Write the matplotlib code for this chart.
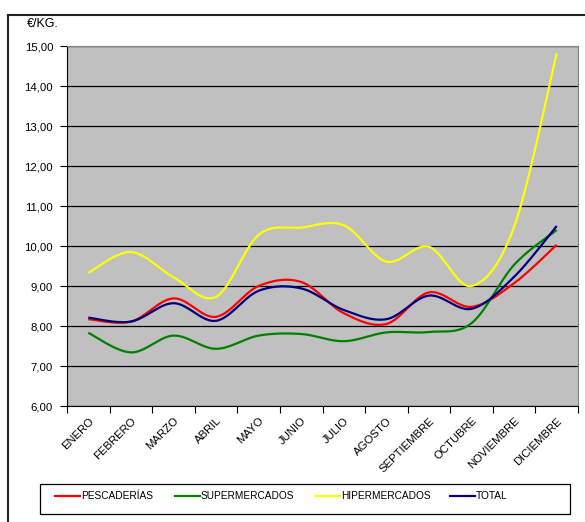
import numpy as np
import matplotlib
matplotlib.use('Agg')
import matplotlib.pyplot as plt
from matplotlib.lines import Line2D
from matplotlib.patches import Rectangle

plt.rcParams['font.family'] = ['Liberation Sans', 'DejaVu Sans']

# ── Data (€/kg per month) ───────────────────────────────────────────────
MONTHS = ["ENERO", "FEBRERO", "MARZO", "ABRIL", "MAYO", "JUNIO", "JULIO",
          "AGOSTO", "SEPTIEMBRE", "OCTUBRE", "NOVIEMBRE", "DICIEMBRE"]

pescaderias    = [8.17, 8.11, 8.69, 8.23, 9.00, 9.10, 8.32, 8.05, 8.84, 8.48, 9.07, 10.03]
supermercados  = [7.83, 7.34, 7.76, 7.43, 7.76, 7.80, 7.62, 7.84, 7.85, 8.07, 9.53, 10.40]
hipermercados  = [9.33, 9.85, 9.22, 8.73, 10.28, 10.46, 10.52, 9.61, 9.98, 9.00, 10.48, 14.82]
total          = [8.21, 8.11, 8.57, 8.13, 8.88, 8.94, 8.40, 8.17, 8.76, 8.43, 9.23, 10.50]

SERIES = [
    ("PESCADERÍAS", pescaderias, "#FF0000"),
    ("SUPERMERCADOS", supermercados, "#008000"),
    ("HIPERMERCADOS", hipermercados, "#FFFF00"),
    ("TOTAL", total, "#000080"),
]


def smooth(x, y, n=30):
    """Catmull-Rom style smoothing through every point (like spreadsheet smoothed lines)."""
    x = np.asarray(x, float)
    y = np.asarray(y, float)
    px = np.concatenate([[x[0]], x, [x[-1]]])
    py = np.concatenate([[y[0]], y, [y[-1]]])
    xs, ys = [], []
    t = np.linspace(0, 1, n)
    for i in range(1, len(px) - 2):
        p0 = np.array([px[i], py[i]])
        p3 = np.array([px[i + 1], py[i + 1]])
        c1 = p0 + (np.array([px[i + 1], py[i + 1]]) - np.array([px[i - 1], py[i - 1]])) / 6
        c2 = p3 - (np.array([px[i + 2], py[i + 2]]) - np.array([px[i], py[i]])) / 6
        b = ((1 - t) ** 3)[:, None] * p0 + (3 * (1 - t) ** 2 * t)[:, None] * c1 \
            + (3 * (1 - t) * t ** 2)[:, None] * c2 + (t ** 3)[:, None] * p3
        xs.append(b[:, 0])
        ys.append(b[:, 1])
    return np.concatenate(xs), np.concatenate(ys)


W, H = 585, 522
fig = plt.figure(figsize=(W / 100, H / 100), dpi=100)
ax = fig.add_axes([67 / W, 1 - 406 / H, 511 / W, 360 / H])
ax.set_facecolor("#C0C0C0")

x = np.arange(len(MONTHS))
for name, vals, color in SERIES:
    sx, sy = smooth(x, vals)
    ax.plot(sx, sy, color=color, lw=1.6, label=name, solid_capstyle="butt")

ax.set_xlim(-0.5, len(MONTHS) - 0.5)
ax.set_ylim(6, 15)
yt = np.arange(6, 15.01, 1)
ax.set_yticks(yt)
ax.set_yticklabels([f"{v:.2f}".replace(".", ",") for v in yt], fontsize=8.2)
ax.yaxis.grid(True, color="black", lw=0.9)
ax.set_axisbelow(True)

ax.set_xticks(x)
ax.set_xticklabels(MONTHS, rotation=45, ha="right", va="top", fontsize=8.2,
                   rotation_mode="anchor")
ax.set_xticks(np.arange(-0.5, len(MONTHS)), minor=True)
ax.tick_params(axis="x", which="major", length=0, pad=7)
ax.tick_params(axis="x", which="minor", length=5, width=0.8, direction="out")
ax.tick_params(axis="y", length=5, width=0.8, direction="out", pad=5)

for side in ["top", "right"]:
    ax.spines[side].set_color("#808080")
ax.spines["left"].set_color("black")
ax.spines["bottom"].set_color("black")

fig.text(27 / W, 1 - 24 / H, "€/KG.", fontsize=9, va="center", ha="left")

# chart frame (left and top edges)
fig.add_artist(Line2D([8 / W, 8 / W], [0, 1 - 15 / H], color="#222222", lw=1.5,
                      transform=fig.transFigure))
fig.add_artist(Line2D([8 / W, 1], [1 - 15 / H, 1 - 15 / H], color="#222222", lw=1.5,
                      transform=fig.transFigure))

# legend box laid out by hand
fig.add_artist(Rectangle((40 / W, 1 - 514 / H), 530 / W, 30 / H, transform=fig.transFigure,
                         facecolor="white", edgecolor="black", lw=0.9))
leg_y = 1 - 496 / H
for (name, _, color), x0 in zip(SERIES, [55, 175, 315, 450]):
    fig.add_artist(Line2D([x0 / W, (x0 + 25) / W], [leg_y, leg_y], color=color, lw=1.6,
                          transform=fig.transFigure))
    fig.text((x0 + 26) / W, leg_y, name, fontsize=7.3, va="center", ha="left")

fig.savefig("out.png", dpi=100)
